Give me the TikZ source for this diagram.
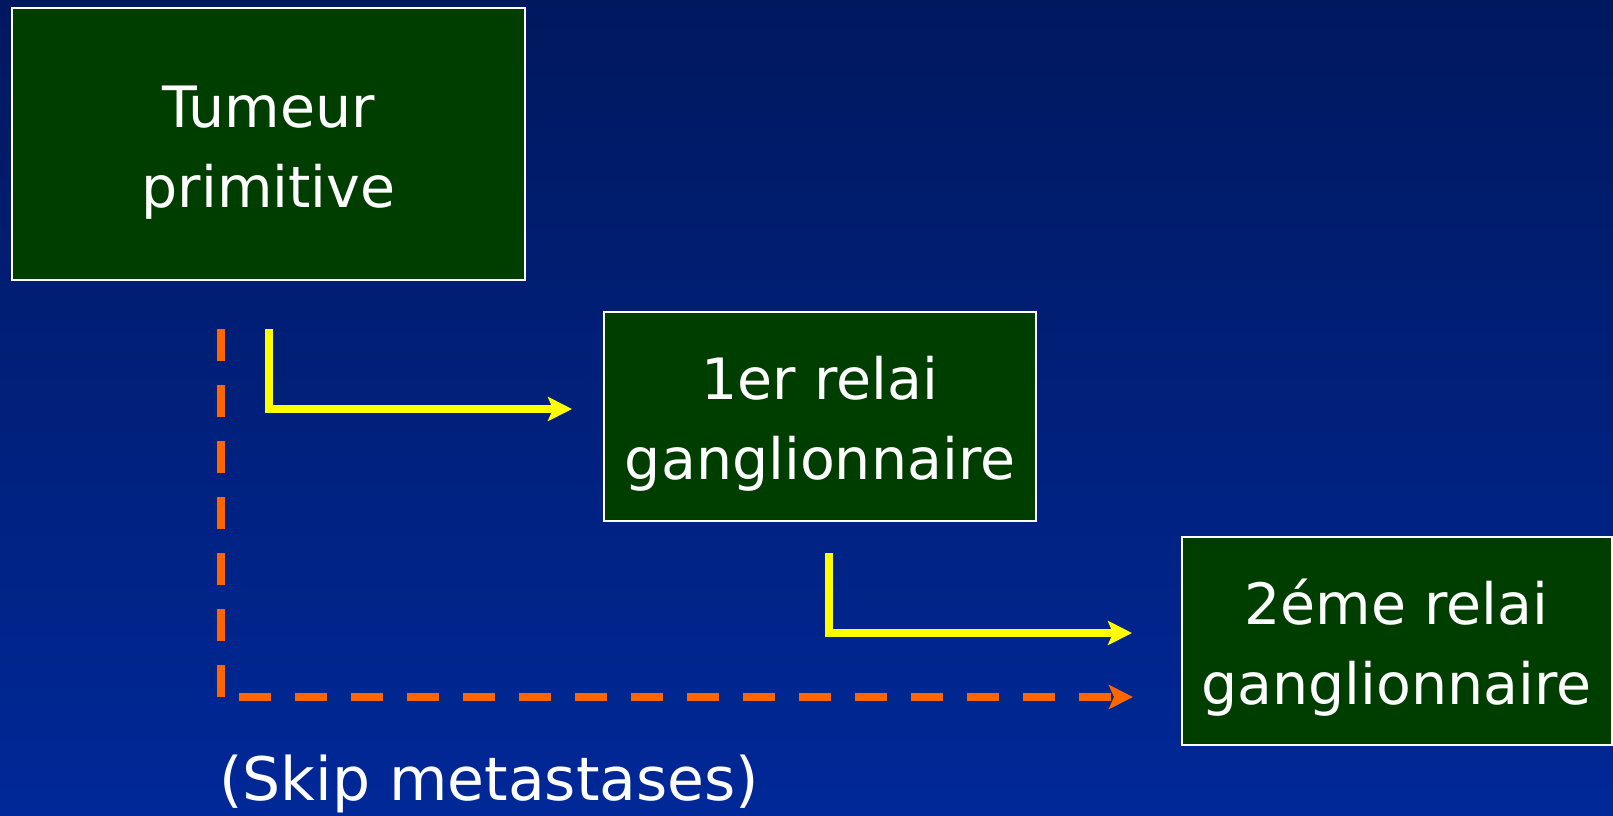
\documentclass[tikz,border=0pt]{standalone}
\usepackage{fontspec}
\setmainfont{DejaVu Sans}
\usetikzlibrary{arrows.meta}
\definecolor{bgtop}{RGB}{0,24,94}
\definecolor{bgbot}{RGB}{0,40,152}
\definecolor{boxgreen}{RGB}{0,62,0}
\definecolor{arrowyellow}{RGB}{255,255,0}
\definecolor{arroworange}{RGB}{255,102,0}
\newcommand\boxlines[2]{\raisebox{-7pt}[\height][\depth]{\begin{tabular}{@{}c@{}}#1\\#2\end{tabular}}}
\tikzset{
  greenbox/.style={draw=white, line width=2pt, fill=boxgreen, text=white,
    inner sep=0pt, font=\fontsize{57}{80}\selectfont},
  yellowarrow/.style={draw=arrowyellow, line width=8pt,
    -{Stealth[length=24pt, width=24pt, inset=5pt]}},
  orangeline/.style={draw=arroworange, line width=8pt, dash pattern=on 32pt off 24pt},
  orangearrow/.style={orangeline,
    -{Stealth[length=24pt, width=24pt, inset=5pt, sep=-1pt]}},
  note/.style={text=white, inner sep=0pt, font=\fontsize{60}{70}\selectfont}
}
\begin{document}
\begin{tikzpicture}[x=1pt, y=-1pt]
  \useasboundingbox (0,0) rectangle (1613,815);
  \shade[top color=bgtop, bottom color=bgbot] (0,0) rectangle (1613,815);

  \node[greenbox, minimum width=513pt, minimum height=272pt] (b1) at (268.5,144) {\boxlines{Tumeur}{primitive}};
  \node[greenbox, minimum width=432pt, minimum height=209pt] (b2) at (820,416.5) {\boxlines{1er relai}{ganglionnaire}};
  \node[greenbox, minimum width=430pt, minimum height=208pt] (b3) at (1396.5,641) {\boxlines{2éme relai}{ganglionnaire}};

  \coordinate (y1s) at (269,329);
  \coordinate (y1e) at (572,409);
  \coordinate (y2s) at (829,553);
  \coordinate (y2e) at (1132,633);
  \coordinate (os) at (221,329);
  \coordinate (oc) at (221,697);
  \coordinate (oh) at (239,697);
  \coordinate (oe) at (1132,697);

  \draw[yellowarrow] (y1s) |- (y1e);
  \draw[yellowarrow] (y2s) |- (y2e);
  \draw[orangeline] (os) -- (oc);
  \draw[orangearrow] (oh) -- (oe);

  \node[note, anchor=base west] (skip) at (219,800) {(Skip metastases)};
\end{tikzpicture}
\end{document}
